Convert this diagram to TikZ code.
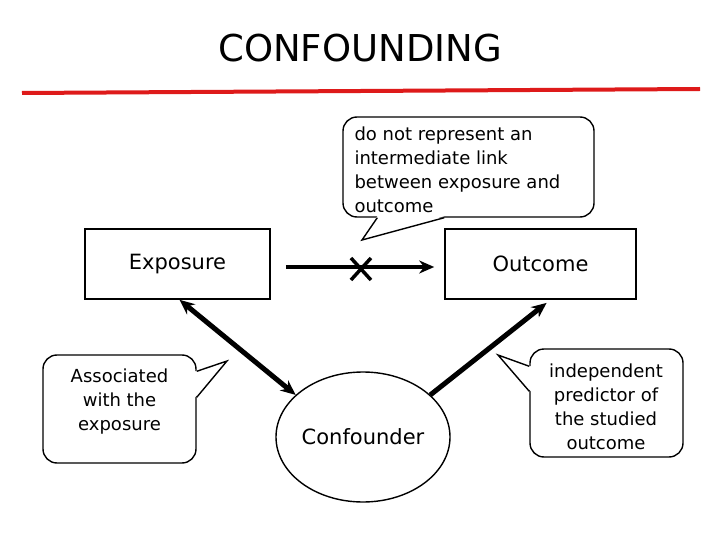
\documentclass[tikz,border=0pt]{standalone}
\usepackage{fontspec}
\setmainfont{DejaVu Sans}
\usetikzlibrary{positioning, arrows.meta, shapes.geometric}
\definecolor{rulered}{RGB}{222,26,26}

\begin{document}
\begin{tikzpicture}[
  x=1pt, y=-1pt,
  factor/.style={draw, line width=1.6pt, minimum width=185pt, minimum height=70pt, inner sep=0pt, font=\fontsize{21}{24}\selectfont},
  hub/.style={draw, ellipse, line width=1.4pt, minimum width=174pt, minimum height=130pt, inner sep=0pt, font=\fontsize{21}{24}\selectfont},
  callbox/.style={draw, line width=1.4pt, rounded corners=14pt, inner sep=0pt},
  calltext/.style={align=center, inner sep=0pt, font=\fontsize{18}{24}\selectfont},
  pointer/.style={line width=1.4pt, line join=miter},
  link/.style={-{Stealth[length=15pt, width=13pt]}, line width=4.5pt},
  bond/.style={{Stealth[length=15pt, width=13pt]}-{Stealth[length=15pt, width=13pt]}, line width=5pt}
]
\fill[white] (0,0) rectangle (720,540);
\useasboundingbox (0,0) rectangle (720,540);

% title and rule
\node[font=\fontsize{37}{40}\selectfont] (title) at (360,48) {CONFOUNDING};
\draw[rulered, line width=4pt] (22,93) -- (700,89);

% factors
\node[factor] (exposure) at (177.5,264) {Exposure};
\node[factor, minimum width=191pt] (outcome) at (540.5,264) {Outcome};
\node[hub] (confounder) at (363,437) {Confounder};

% callouts
\node[callbox, minimum width=251pt, minimum height=100pt] (noteLink) at (468.5,167) {};
\node[callbox, minimum width=153pt, minimum height=108pt] (noteExpo) at (119.5,409) {};
\node[callbox, minimum width=153pt, minimum height=108pt] (noteOut) at (606.5,403) {};

\node[calltext, align=left, anchor=north west] (noteLinkText) at ([shift={(12,10)}]noteLink.north west)
  {do not represent an\\intermediate link\\between exposure and\\outcome};
\node[calltext, anchor=north] (noteExpoText) at (119.5,369) {Associated\\with the\\exposure};
\node[calltext, anchor=north] (noteOutText) at (606,364) {independent\\predictor of\\the studied\\outcome};

\coordinate (tipLink) at (362,240);
\coordinate (tipExpo) at (227,361);
\coordinate (tipOut) at (498,355);

\fill[white] ([xshift=35pt,yshift=1.5pt]noteLink.south west) -- (tipLink) -- ([xshift=102pt,yshift=1.5pt]noteLink.south west) -- cycle;
\draw[pointer] ([xshift=35pt]noteLink.south west) -- (tipLink) -- ([xshift=102pt]noteLink.south west);
\fill[white] ([xshift=-1.5pt,yshift=-17pt]noteExpo.north east) -- (tipExpo) -- ([xshift=-1.5pt,yshift=-43pt]noteExpo.north east) -- cycle;
\draw[pointer] ([yshift=-17pt]noteExpo.north east) -- (tipExpo) -- ([yshift=-43pt]noteExpo.north east);
\fill[white] ([xshift=1.5pt,yshift=-18pt]noteOut.north west) -- (tipOut) -- ([xshift=1.5pt,yshift=-43pt]noteOut.north west) -- cycle;
\draw[pointer] ([yshift=-18pt]noteOut.north west) -- (tipOut) -- ([yshift=-43pt]noteOut.north west);

% links
\draw[link, shorten <=15pt, shorten >=10pt] ([yshift=-3pt]exposure.east) -- ([yshift=-3pt]outcome.west) coordinate[pos=0.52] (cutmark);
\draw[line width=3.5pt] ([xshift=-10pt,yshift=9pt]cutmark) -- ([xshift=10pt,yshift=-13pt]cutmark);
\draw[line width=3.5pt] ([xshift=10pt,yshift=9pt]cutmark) -- ([xshift=-10pt,yshift=-13pt]cutmark);
\draw[bond] ([xshift=2pt]exposure.south) -- (confounder.148);
\draw[link, line width=5pt, shorten >=5pt] (confounder.32) -- ([xshift=10pt]outcome.south);

\end{tikzpicture}
\end{document}
